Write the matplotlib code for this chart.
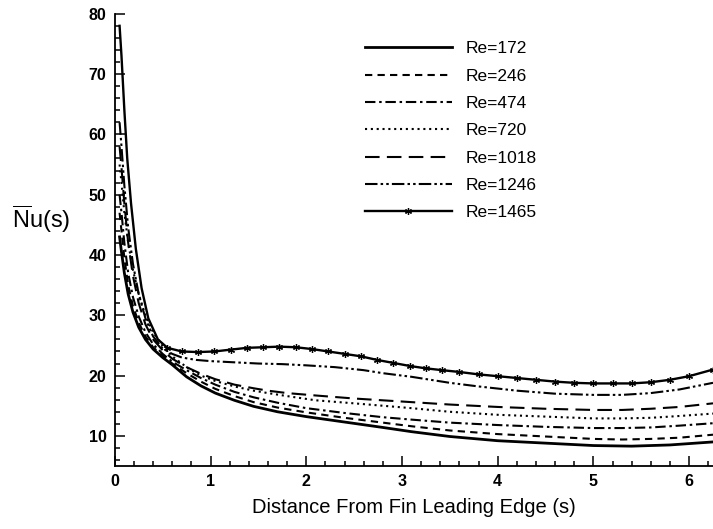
import numpy as np
import matplotlib
matplotlib.use("Agg")
import matplotlib.pyplot as plt
from matplotlib.ticker import MultipleLocator

plt.rcParams['font.family'] = ['Liberation Sans', 'DejaVu Sans']
plt.rcParams['mathtext.fontset'] = 'custom'
plt.rcParams['mathtext.rm'] = 'Liberation Sans'

# values
x_172 = [0.05, 0.07, 0.10, 0.14, 0.19, 0.25, 0.32, 0.4, 0.5, 0.6, 0.75, 0.9, 1.05, 1.25, 1.45, 1.7,
         2.0, 2.4, 2.8, 3.1, 3.5, 4.0, 4.5, 5.0, 5.4, 5.8, 6.25]
y_172 = [43, 40.5, 37, 33.5, 30.5, 28.0, 26.0, 24.4, 23.0, 21.8, 19.8, 18.3, 17.1, 15.9, 14.9, 14.0,
         13.2, 12.3, 11.4, 10.7, 9.9, 9.2, 8.8, 8.4, 8.3, 8.5, 9.0]

x_246 = [0.05, 0.07, 0.10, 0.14, 0.19, 0.25, 0.32, 0.4, 0.5, 0.6, 0.75, 0.9, 1.05, 1.25, 1.45, 1.7,
         2.0, 2.4, 2.8, 3.1, 3.5, 4.0, 4.5, 5.0, 5.3, 5.6, 5.9, 6.25]
y_246 = [47, 44, 39.5, 35, 31.5, 28.8, 26.5, 24.7, 23.3, 22.0, 20.4, 19.0, 17.8, 16.6, 15.6, 14.7,
         13.9, 13.0, 12.2, 11.6, 10.9, 10.3, 9.9, 9.5, 9.4, 9.5, 9.7, 10.2]

x_474 = [0.05, 0.07, 0.10, 0.14, 0.19, 0.25, 0.32, 0.4, 0.5, 0.6, 0.75, 0.9, 1.05, 1.25, 1.45, 1.7,
         2.0, 2.4, 2.8, 3.1, 3.5, 4.0, 4.5, 5.0, 5.3, 5.6, 5.9, 6.25]
y_474 = [50, 47, 42, 37, 33, 29.8, 27.2, 25.2, 23.6, 22.3, 20.9, 19.6, 18.5, 17.3, 16.4, 15.5,
         14.6, 13.8, 13.1, 12.7, 12.2, 11.8, 11.5, 11.3, 11.3, 11.4, 11.7, 12.1]

x_720 = [0.05, 0.07, 0.10, 0.14, 0.19, 0.25, 0.32, 0.4, 0.5, 0.6, 0.75, 0.9, 1.05, 1.25, 1.45, 1.6,
         1.8, 2.1, 2.5, 2.8, 3.1, 3.5, 4.0, 4.5, 5.0, 5.3, 5.6, 5.9, 6.25]
y_720 = [55, 52, 47, 42, 37.5, 33.5, 30.0, 27.2, 24.9, 23.2, 21.4, 20.0, 19.1, 18.2, 17.5, 17.1,
         16.6, 15.9, 15.4, 15.0, 14.6, 14.0, 13.5, 13.2, 12.9, 12.9, 13.0, 13.3, 13.7]

x_1018 = [0.05, 0.07, 0.10, 0.14, 0.19, 0.25, 0.32, 0.4, 0.5, 0.6, 0.75, 0.9, 1.05, 1.25, 1.45, 1.6,
          1.8, 2.1, 2.5, 2.8, 3.1, 3.5, 4.0, 4.5, 5.0, 5.3, 5.6, 5.9, 6.25]
y_1018 = [58, 54.5, 48.5, 42, 36.5, 32.0, 28.5, 26.0, 24.2, 22.8, 21.4, 20.3, 19.4, 18.5, 17.9, 17.5,
          17.1, 16.7, 16.2, 15.9, 15.6, 15.2, 14.8, 14.5, 14.3, 14.3, 14.5, 14.8, 15.4]

x_1246 = [0.05, 0.07, 0.10, 0.14, 0.19, 0.25, 0.32, 0.4, 0.5, 0.6, 0.7, 0.85, 1.0, 1.25, 1.5, 1.75,
          2.0, 2.3, 2.6, 2.8, 3.1, 3.5, 3.8, 4.2, 4.6, 5.0, 5.3, 5.6, 5.9, 6.25]
y_1246 = [62, 58, 51.5, 44.5, 38.5, 33.5, 29.5, 26.5, 24.5, 23.6, 23.0, 22.6, 22.4, 22.2, 22.0, 21.9,
          21.7, 21.4, 20.9, 20.4, 19.8, 18.8, 18.2, 17.5, 17.0, 16.8, 16.8, 17.1, 17.7, 18.8]

x_1465 = [0.05, 0.07, 0.10, 0.13, 0.17, 0.22, 0.28, 0.35, 0.45, 0.55, 0.7, 0.87, 1.04, 1.21, 1.38,
          1.55, 1.72, 1.89, 2.06, 2.23, 2.4, 2.57, 2.74, 2.91, 3.08, 3.25, 3.42, 3.6, 3.8, 4.0, 4.2,
          4.4, 4.6, 4.8, 5.0, 5.2, 5.4, 5.6, 5.8, 6.0, 6.25]
y_1465 = [78, 73, 64, 56, 48.5, 41, 34.5, 29.5, 26.0, 24.6, 24.0, 23.9, 24.0, 24.3, 24.6,
          24.7, 24.8, 24.7, 24.4, 24.0, 23.6, 23.2, 22.6, 22.1, 21.6, 21.2, 20.9, 20.6, 20.2, 19.9, 19.6,
          19.3, 19.0, 18.8, 18.7, 18.7, 18.7, 18.9, 19.3, 19.9, 21.0]

labels = ['Re=172', 'Re=246', 'Re=474', 'Re=720', 'Re=1018', 'Re=1246', 'Re=1465']

fig = plt.figure(figsize=(7.13, 5.29), dpi=100)
ax = fig.add_axes([0.161, 0.119, 0.839, 0.855])

lw = 1.5
ax.plot(x_172, y_172, color='k', lw=2.0, ls='-', label=labels[0])
ax.plot(x_246, y_246, color='k', lw=lw, dashes=(3.5, 2.5), label=labels[1])
ax.plot(x_474, y_474, color='k', lw=lw, dashes=(5, 1.8, 1.2, 1.8), label=labels[2])
ax.plot(x_720, y_720, color='k', lw=lw, dashes=(1.0, 1.8), label=labels[3])
ax.plot(x_1018, y_1018, color='k', lw=lw, dashes=(7, 3.5), label=labels[4])
ax.plot(x_1246, y_1246, color='k', lw=lw, dashes=(6, 1.5, 1.2, 1.5, 1.2, 1.5), label=labels[5])
ax.plot(x_1465, y_1465, color='k', lw=1.7, ls='-', marker=(6, 2, 0), ms=5, mew=0.9,
        markevery=slice(9, None), label=labels[6])

ax.set_xlim(0, 6.25)
ax.set_ylim(5, 80)
ax.xaxis.set_major_locator(MultipleLocator(1))
ax.xaxis.set_minor_locator(MultipleLocator(0.2))
ax.yaxis.set_major_locator(MultipleLocator(10))
ax.yaxis.set_minor_locator(MultipleLocator(2))
ax.tick_params(which='both', direction='in', width=1.1, top=False, right=False)
ax.tick_params(which='major', length=7, labelsize=11.5, pad=6)
ax.tick_params(which='minor', length=3.5)
for lab in ax.get_xticklabels() + ax.get_yticklabels():
    lab.set_fontweight('bold')
for side in ['top', 'right']:
    ax.spines[side].set_visible(False)
for side in ['left', 'bottom']:
    ax.spines[side].set_linewidth(1.3)

ax.set_xlabel('Distance From Fin Leading Edge (s)', fontsize=14.5, labelpad=6)
fig.text(0.058, 0.585, r'$\overline{\mathrm{N}}\mathrm{u(s)}$', fontsize=17,
         ha='center', va='center')

ax.legend(loc='upper left', bbox_to_anchor=(0.512, 0.922), bbox_transform=fig.transFigure,
          frameon=False, fontsize=12.5, handlelength=5.0, handletextpad=0.8,
          labelspacing=0.7, borderpad=0, borderaxespad=0, numpoints=1)

fig.savefig('out.png', dpi=100)
